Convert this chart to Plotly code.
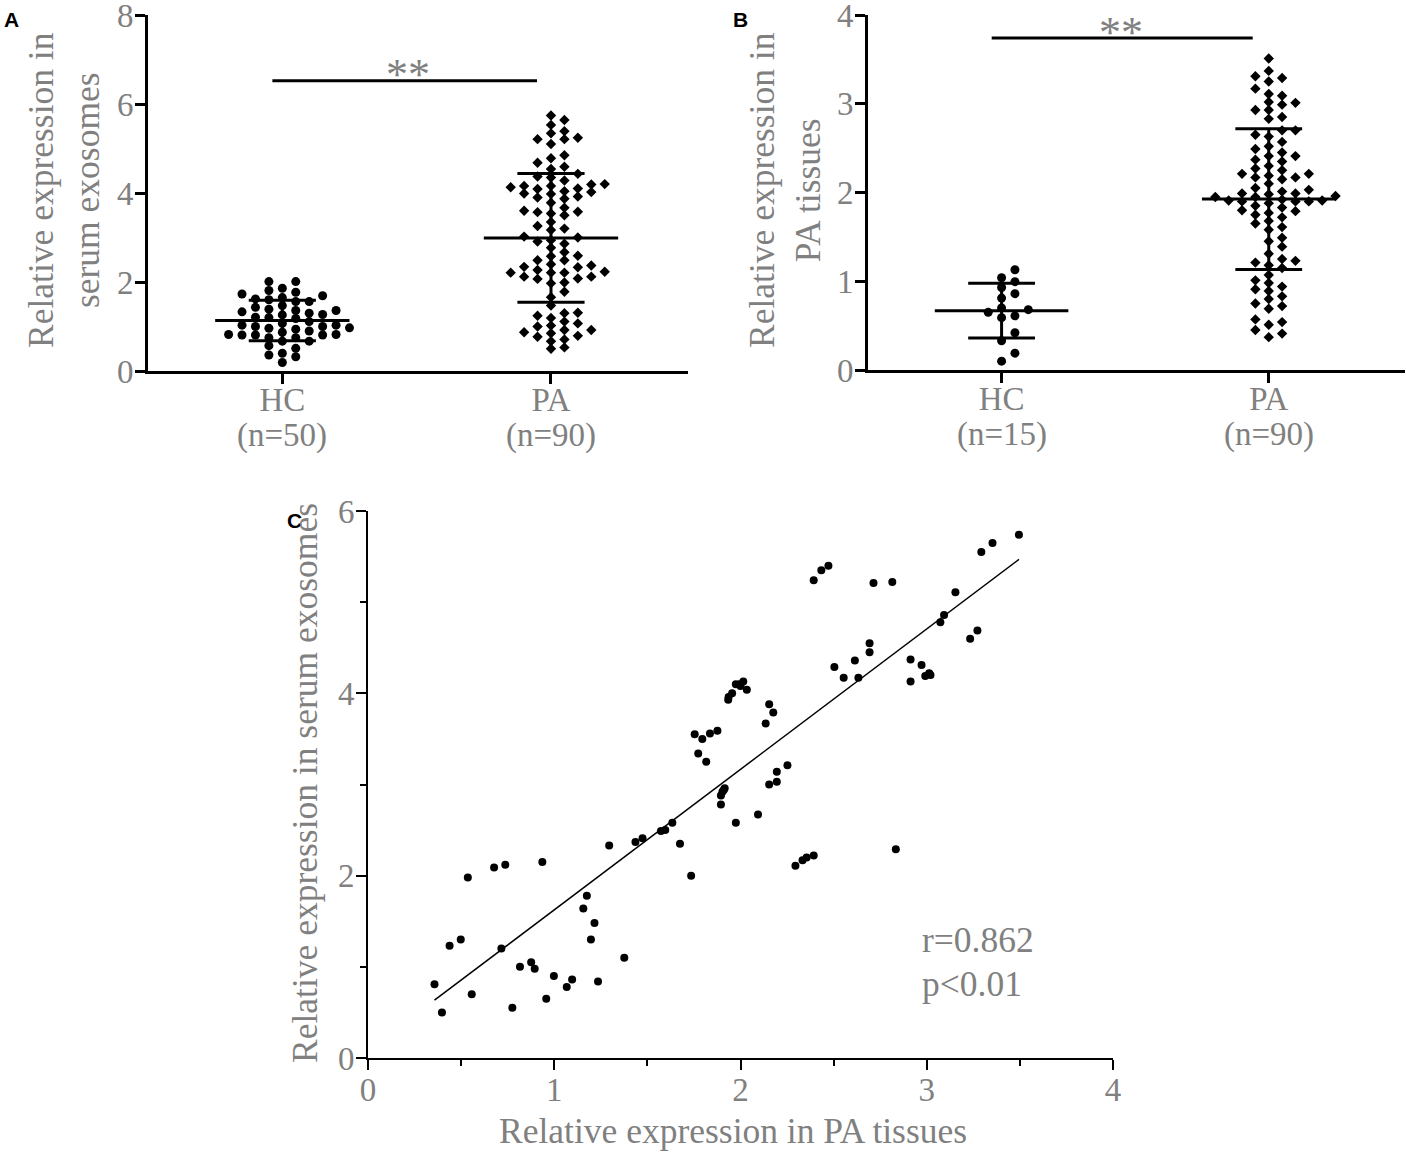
import numpy as np
import plotly.graph_objects as go

# panel A: relative expression in serum exosomes
hc_serum = [2.01, 1.65, 1.26, 1.03, 0.96, 0.67, 0.36,
            2.01, 1.81, 1.60, 1.43, 1.21, 0.87, 0.67, 0.51, 0.32,
            1.86, 1.73, 1.47, 1.20, 0.97, 0.81, 0.57, 0.40, 0.19,
            1.77, 1.62, 1.33, 1.18, 0.90, 0.75,
            1.56, 1.39, 1.11, 0.82,
            1.30, 1.03, 0.82,
            1.69, 1.56, 1.27, 1.07, 0.94, 0.75,
            1.36, 1.00, 0.81,
            1.36, 1.00, 0.81]
pa_serum = [5.74, 5.64, 5.53, 5.39, 5.34, 5.24, 5.21, 5.21, 5.10, 4.85, 4.78, 4.68, 4.59, 4.54, 4.43,
            4.37, 4.35, 4.28,
            4.09, 4.16, 4.19, 4.16, 4.10, 4.13,
            3.98, 4.02, 4.20, 4.04, 3.99, 3.92,
            3.90, 3.78, 3.87,
            3.57, 3.54, 3.60, 3.67, 3.50, 3.58,
            3.35, 3.20, 3.26, 3.17,
            3.02, 3.00, 2.94, 2.91,
            2.86, 2.77, 2.67,
            2.59, 2.49, 2.58, 2.49, 2.40,
            2.34, 2.27, 2.37, 2.33,
            2.21, 2.23, 2.21, 2.21,
            2.08, 2.07, 2.12, 2.12,
            1.99, 1.97, 1.78, 1.66, 1.47,
            1.31, 1.30, 1.24, 1.19,
            1.07, 1.02, 1.00, 1.11,
            0.92, 0.92, 0.85, 0.77, 0.87,
            0.67, 0.79, 0.71, 0.53, 0.50]

# panel B: relative expression in PA tissues
hc_tissue = [1.13, 1.04, 0.995, 0.93, 0.86, 0.81, 0.68, 0.70, 0.65, 0.61, 0.59, 0.42, 0.33, 0.19, 0.10]
pa_tissue = [3.51, 3.37, 3.31, 3.29, 3.25, 3.17, 3.11, 3.09, 3.02, 3.01, 2.99, 2.93, 2.93, 2.85, 2.83,
             2.70, 2.70, 2.65, 2.63, 2.57, 2.52, 2.49, 2.45, 2.41, 2.41, 2.37, 2.35, 2.30, 2.27, 2.25,
             2.21, 2.21, 2.19, 2.17, 2.17, 2.15, 2.10, 2.03, 2.01, 2.05,
             1.99, 1.99, 1.98, 1.95, 1.96, 1.95, 1.92,
             1.90, 1.90, 1.91, 1.90, 1.91, 1.88,
             1.85, 1.83, 1.79, 1.77, 1.80, 1.75, 1.72,
             1.68, 1.65, 1.61, 1.58, 1.49, 1.45, 1.39, 1.31,
             1.23, 1.25, 1.21, 1.18, 1.15, 1.07,
             1.01, 0.98, 0.94, 0.89, 0.91, 0.83, 0.80, 0.75, 0.69, 0.72,
             0.54, 0.57, 0.51, 0.45, 0.41, 0.37]

groups = ["HC", "PA"]
counts_a = ["(n=50)", "(n=90)"]
counts_b = ["(n=15)", "(n=90)"]

# panel C: correlation
tissue_x = [3.495, 3.353, 3.293, 2.472, 2.434, 2.393, 2.714, 2.815, 3.154, 3.093,
            3.073, 3.272, 3.233, 2.693, 2.693, 2.614, 2.504, 2.554, 2.633, 2.913,
            2.972, 2.913, 3.013, 2.992, 2.015, 1.975, 1.994, 2.034, 1.955, 1.936,
            1.934, 2.154, 2.176, 2.135, 1.876, 1.836, 1.795, 1.754, 1.773, 1.816,
            2.252, 2.195, 2.195, 2.154, 1.915, 1.903, 1.895, 1.895, 2.094, 1.975,
            1.634, 1.596, 1.573, 1.675, 1.474, 1.436, 1.295, 1.735, 2.393, 2.355,
            2.333, 2.295, 2.834, 0.936, 0.737, 0.677, 0.536, 1.175, 1.156, 1.216,
            1.197, 0.498, 0.438, 0.716, 1.376, 0.876, 0.816, 0.895, 0.998, 1.096,
            1.067, 1.235, 0.357, 0.557, 0.957, 0.775, 0.397, 2.000, 1.910, 3.020]
serum_y = [5.74, 5.65, 5.55, 5.40, 5.35, 5.24, 5.21, 5.22, 5.11, 4.86,
           4.78, 4.69, 4.60, 4.55, 4.45, 4.36, 4.29, 4.17, 4.17, 4.37,
           4.31, 4.13, 4.22, 4.19, 4.13, 4.10, 4.10, 4.04, 4.00, 3.96,
           3.93, 3.88, 3.79, 3.67, 3.59, 3.56, 3.50, 3.55, 3.34, 3.25,
           3.21, 3.14, 3.03, 3.00, 2.96, 2.92, 2.88, 2.78, 2.67, 2.58,
           2.58, 2.50, 2.49, 2.35, 2.41, 2.37, 2.33, 2.00, 2.22, 2.20,
           2.17, 2.11, 2.29, 2.15, 2.12, 2.09, 1.98, 1.78, 1.64, 1.48,
           1.30, 1.30, 1.23, 1.20, 1.10, 1.05, 1.00, 0.98, 0.90, 0.86,
           0.78, 0.84, 0.81, 0.70, 0.65, 0.55, 0.50, 4.08, 2.94, 4.20]

GREY = "#808080"
SERIF = "Liberation Serif"
W, H = 1406, 1153


def px(x):
    return x / W


def py(y):
    return 1 - y / H


def swarm(vals, px_per_unit, step, min_px):
    # simple beeswarm: put each point in the nearest free column
    vals = np.asarray(vals)
    offs = np.zeros(len(vals))
    placed = []
    cands = [0]
    for k in range(1, 12):
        cands += [k, -k]
    for i in np.argsort(vals):
        y = vals[i] * px_per_unit
        for c in cands:
            if all(not (cc == c and abs(yy - y) < min_px) for cc, yy in placed):
                break
        placed.append((c, y))
        offs[i] = c * step
    return offs


fig = go.Figure()


def dot_panel(xa, ya, data, symbols, sizes, px_per_unit):
    for pos, (vals, sym, sz) in enumerate(zip(data, symbols, sizes)):
        offs = swarm(vals, px_per_unit, 0.05, 8 if sym == "circle" else 7.5)
        fig.add_trace(go.Scatter(x=pos + offs, y=vals, mode="markers", xaxis=xa, yaxis=ya,
                                 marker=dict(symbol=sym, size=sz, color="black"),
                                 showlegend=False))
        m = np.mean(vals)
        sd = np.std(vals, ddof=1)
        lx, ly = [], []
        for x0, x1, yv in [(pos - 0.25, pos + 0.25, m), (pos - 0.125, pos + 0.125, m - sd),
                           (pos - 0.125, pos + 0.125, m + sd)]:
            lx += [x0, x1, None]
            ly += [yv, yv, None]
        lx += [pos, pos]
        ly += [m - sd, m + sd]
        fig.add_trace(go.Scatter(x=lx, y=ly, mode="lines", xaxis=xa, yaxis=ya,
                                 line=dict(color="black", width=3), showlegend=False))


dot_panel("x", "y", [hc_serum, pa_serum], ["circle", "diamond"], [9, 8], 44.5)
dot_panel("x2", "y2", [hc_tissue, pa_tissue], ["circle", "diamond"], [9, 8], 88.75)

# panel C
fig.add_trace(go.Scatter(x=tissue_x, y=serum_y, mode="markers", xaxis="x3", yaxis="y3",
                         marker=dict(size=8, color="black"), showlegend=False))
slope, icpt = np.polyfit(tissue_x, serum_y, 1)
xs = np.array([min(tissue_x), max(tissue_x)])
fig.add_trace(go.Scatter(x=xs, y=slope * xs + icpt, mode="lines", xaxis="x3", yaxis="y3",
                         line=dict(color="black", width=1.5), showlegend=False))

tickfont = dict(family=SERIF, size=33, color=GREY)
titlefont = dict(family=SERIF, size=35.5, color=GREY)
cat_axis = dict(range=[-0.5, 1.51], tickvals=[0, 1], ticktext=groups, showline=True,
                linecolor="black", linewidth=3, ticks="outside", ticklen=10, tickwidth=3,
                tickcolor="black", tickfont=tickfont, showgrid=False, zeroline=False,
                ticklabelstandoff=-13, ticklabeloverflow="allow")
val_axis = dict(showline=True, linecolor="black", linewidth=3, ticks="outside", ticklen=10,
                tickwidth=3, tickcolor="black", tickfont=tickfont, showgrid=False, zeroline=False,
                ticklabelstandoff=-5, ticklabeloverflow="allow")

fig.update_layout(
    width=W, height=H, margin=dict(l=0, r=0, t=0, b=0, autoexpand=False),
    plot_bgcolor="white", paper_bgcolor="white",
    xaxis=dict(cat_axis, domain=[px(148), px(688)], anchor="y"),
    yaxis=dict(val_axis, domain=[py(371), py(15)], range=[0, 8], dtick=2, anchor="x"),
    xaxis2=dict(cat_axis, domain=[px(868), px(1405)], anchor="y2"),
    yaxis2=dict(val_axis, domain=[py(370), py(15)], range=[0, 4], dtick=1, anchor="x2"),
    xaxis3=dict(val_axis, domain=[px(368), px(1113)], range=[0, 4], dtick=1, anchor="y3",
                linewidth=2, tickwidth=2, ticklabelstandoff=-9,
                minor=dict(dtick=0.5, ticks="outside", ticklen=6, tickwidth=2, tickcolor="black")),
    yaxis3=dict(val_axis, domain=[py(1058), py(511)], range=[0, 6], dtick=2, anchor="x3",
                linewidth=2, tickwidth=2,
                minor=dict(dtick=1, ticks="outside", ticklen=6, tickwidth=2, tickcolor="black")),
)

# significance bars
fig.add_shape(type="line", xref="x", yref="y", x0=-0.037, x1=0.948, y0=6.52, y1=6.52,
              line=dict(color="black", width=3))
fig.add_shape(type="line", xref="x2", yref="y2", x0=-0.037, x1=0.94, y0=3.74, y1=3.74,
              line=dict(color="black", width=3))

# group sizes under the category names
for xa, texts, yy in [("x", counts_a, 435), ("x2", counts_b, 434)]:
    for pos, t in enumerate(texts):
        fig.add_annotation(text=t, x=pos, y=py(yy), xref=xa, yref="paper", xanchor="center",
                           yanchor="middle", font=tickfont, showarrow=False)

notes = [
    ("<b>A</b>", 11, 20, 0, dict(family="Liberation Sans", size=21, color="black"), "center"),
    ("<b>B</b>", 741, 20, 0, dict(family="Liberation Sans", size=21, color="black"), "center"),
    ("<b>C</b>", 294, 520, 0, dict(family="Liberation Sans", size=21, color="black"), "center"),
    ("Relative expression in<br>serum exosomes", 64, 190, -90, titlefont, "center"),
    ("Relative expression in<br>PA tissues", 785, 190, -90, titlefont, "center"),
    ("Relative expression in serum exosomes", 305, 783, -90, titlefont, "center"),
    ("Relative expression in PA tissues", 733, 1131, 0, titlefont, "center"),
    ("**", 408, 75, 0, dict(family=SERIF, size=44, color=GREY), "center"),
    ("**", 1121, 33, 0, dict(family=SERIF, size=44, color=GREY), "center"),
    ("r=0.862", 920, 940, 0, titlefont, "left"),
    ("p<0.01", 920, 984, 0, titlefont, "left"),
]
for text, x, y, ang, font, xa in notes:
    fig.add_annotation(text=text, x=px(x), y=py(y), xref="paper", yref="paper",
                       xanchor=xa, yanchor="middle", textangle=ang, font=font,
                       showarrow=False)

fig.write_html("out.html", config={"displayModeBar": False},
               post_script="document.body.style.margin='0';")
